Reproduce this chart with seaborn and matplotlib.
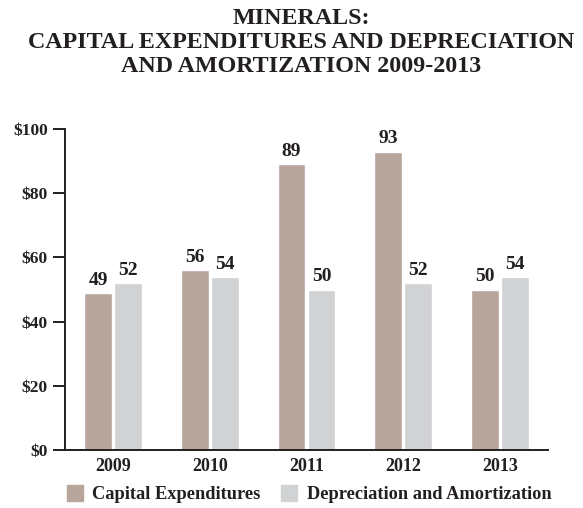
import matplotlib
matplotlib.use("Agg")
import matplotlib.pyplot as plt
import pandas as pd
import seaborn as sns

# ─── Data ────────────────────────────────────────────────────────────────────
years        = ["2009", "2010", "2011", "2012", "2013"]
capex        = [49, 56, 89, 93, 50]
depreciation = [52, 54, 50, 52, 54]
series_names = ["Capital Expenditures", "Depreciation and Amortization"]
y_ticks      = [0, 20, 40, 60, 80, 100]

df = pd.DataFrame({
    "year":   years * 2,
    "value":  capex + depreciation,
    "series": [series_names[0]] * len(years) + [series_names[1]] * len(years),
})

INK     = "#231f20"
PALETTE = {series_names[0]: "#b8a69d", series_names[1]: "#d1d2d4"}

sns.set_style("white")
plt.rcParams["font.family"] = ["Liberation Serif", "DejaVu Serif"]

fig = plt.figure(figsize=(5.83, 5.08), dpi=100)
ax = fig.add_axes([0.1115, 0.114, 0.8285, 0.632])

sns.barplot(data=df, x="year", y="value", hue="series", palette=PALETTE,
            width=0.62, gap=0.07, ax=ax, legend=False, saturation=1)

# value labels
for cont in ax.containers:
    ax.bar_label(cont, padding=3, fontsize=14, fontweight="bold", color=INK)

ax.set_ylim(0, 100)
ax.set_xlim(-0.5, 4.5)
ax.set_yticks(y_ticks)
ax.set_yticklabels([f"${v}" for v in y_ticks])
ax.set_xlabel("")
ax.set_ylabel("")

for s in ("top", "right"):
    ax.spines[s].set_visible(False)
for s in ("left", "bottom"):
    ax.spines[s].set_color(INK)
    ax.spines[s].set_linewidth(1.4)

ax.tick_params(axis="y", length=8.5, width=1.4, color=INK, labelcolor=INK,
               labelsize=12.5, pad=4, left=True)
ax.tick_params(axis="x", length=0, labelcolor=INK, labelsize=13, pad=6)
for lbl in ax.get_yticklabels() + ax.get_xticklabels():
    lbl.set_fontweight("bold")

fig.text(0.517, 0.985,
         "MINERALS:\nCAPITAL EXPENDITURES AND DEPRECIATION\nAND AMORTIZATION 2009-2013",
         ha="center", va="top", fontsize=17.3, fontweight="bold", color=INK,
         linespacing=1.2)

handles = [plt.Rectangle((0, 0), 1, 1, color=PALETTE[n]) for n in series_names]
leg = fig.legend(handles, series_names, loc="center", ncol=2,
                 bbox_to_anchor=(0.53, 0.027), frameon=False,
                 handlelength=0.9, handleheight=0.9, handletextpad=0.5,
                 columnspacing=1.1, prop={"size": 13.2, "weight": "bold"})
for t in leg.get_texts():
    t.set_color(INK)

fig.savefig("out.png", dpi=100)
